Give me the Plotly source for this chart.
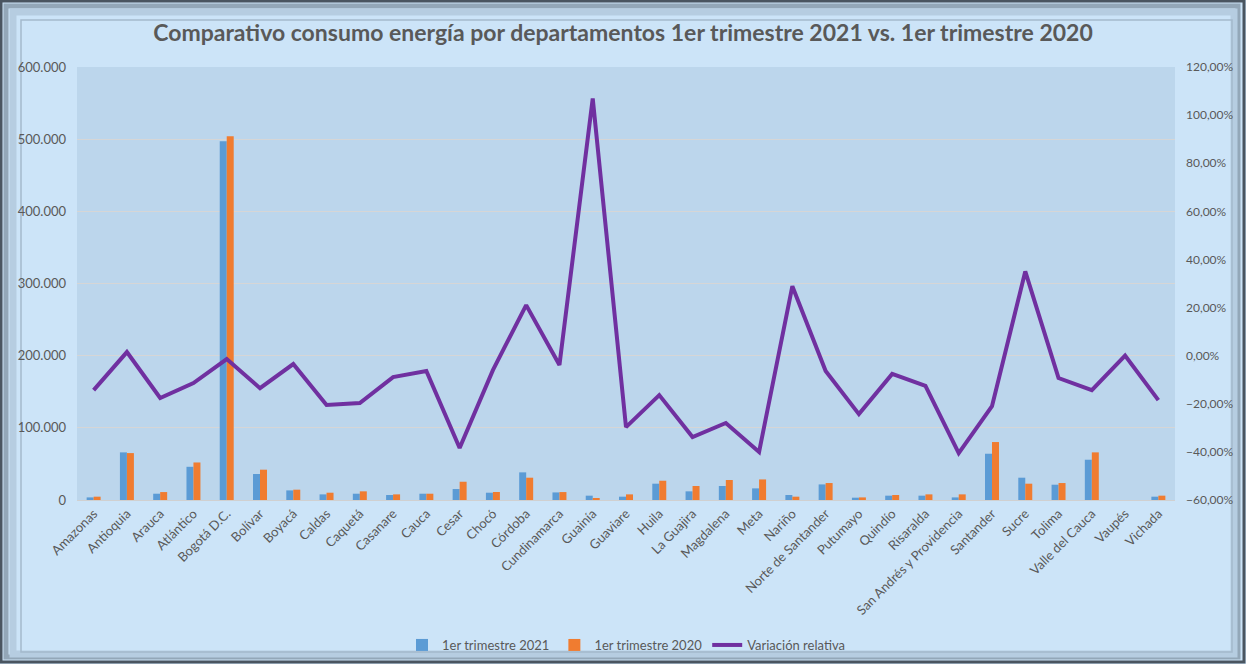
import plotly.graph_objects as go

departamentos = ["Amazonas", "Antioquia", "Arauca", "Atlántico", "Bogotá D.C.", "Bolívar", "Boyacá",
                 "Caldas", "Caquetá", "Casanare", "Cauca", "Cesar", "Chocó", "Córdoba", "Cundinamarca",
                 "Guainía", "Guaviare", "Huila", "La Guajira", "Magdalena", "Meta", "Nariño",
                 "Norte de Santander", "Putumayo", "Quindío", "Risaralda", "San Andrés y Providencia",
                 "Santander", "Sucre", "Tolima", "Valle del Cauca", "Vaupés", "Vichada"]

trimestre_2021 = [3600, 66000, 8700, 46000, 497000, 36000, 13300,
                  7800, 8700, 6900, 8700, 15200, 10100, 38300, 10500,
                  6000, 4600, 22600, 12000, 19400, 16100, 6900,
                  21600, 3200, 6000, 6000, 3600,
                  64100, 30900, 21200, 55800, 0, 4600]

trimestre_2020 = [4600, 65000, 11000, 52000, 504000, 42000, 14300,
                  10100, 12000, 7800, 8700, 25300, 11100, 30900, 11000,
                  2200, 7800, 26700, 19400, 27700, 28500, 4600,
                  23500, 3600, 6900, 7800, 7800,
                  80300, 22600, 23500, 66000, 0, 6000]

variacion = [-0.143, 0.015, -0.176, -0.114, -0.014, -0.135, -0.035,
             -0.205, -0.197, -0.089, -0.064, -0.384, -0.060, 0.210, -0.039,
             1.069, -0.297, -0.164, -0.338, -0.280, -0.400, 0.289,
             -0.064, -0.243, -0.076, -0.126, -0.405,
             -0.210, 0.350, -0.093, -0.143, 0.000, -0.185]

W, H = 1246, 664
L, R, T, B = 77, 71, 67, 164
PW, PH = W - L - R, H - T - B

def px(x):
    return (x - L) / PW

def py(y):
    return (H - B - y) / PH

TXT = "#595959"
FONT = "Lato"

fig = go.Figure()
fig.add_trace(go.Bar(x=departamentos, y=trimestre_2021, name="1er trimestre 2021",
                     marker=dict(color="#5b9bd5", line=dict(width=0))))
fig.add_trace(go.Bar(x=departamentos, y=trimestre_2020, name="1er trimestre 2020",
                     marker=dict(color="#f07c30", line=dict(width=0))))
fig.add_trace(go.Scatter(x=departamentos, y=variacion, name="Variación relativa", yaxis="y2",
                         mode="lines", line=dict(color="#7030a0", width=4)))

shapes = [
    dict(type="rect", xref="paper", yref="paper", x0=px(1), x1=px(W - 2), y0=py(H - 2), y1=py(1),
         line=dict(color="#4a5560", width=3), layer="below"),
    dict(type="rect", xref="paper", yref="paper", x0=px(6), x1=px(W - 8), y0=py(H - 7), y1=py(6),
         line=dict(color="#93a7b8", width=5), layer="below"),
    dict(type="rect", xref="paper", yref="paper", x0=px(13), x1=px(W - 12), y0=py(H - 10), y1=py(12),
         line=dict(color="#b6cde1", width=7), layer="below"),
    dict(type="rect", xref="paper", yref="paper", x0=px(21), x1=px(1232), y0=py(652), y1=py(20),
         line=dict(color="#a4b9cc", width=1.5), layer="below"),
]

fig.update_layout(
    width=W, height=H,
    margin=dict(l=L, r=R, t=T, b=B, autoexpand=False),
    paper_bgcolor="#cce4f8",
    plot_bgcolor="#bcd6ec",
    separators=",.",
    font=dict(family=FONT, color=TXT, size=13),
    title=dict(text="<b>Comparativo consumo energía por departamentos 1er trimestre 2021 vs. 1er trimestre 2020</b>",
               x=0.5, xanchor="center", xref="container", y=1 - 33 / H, yanchor="middle",
               font=dict(family=FONT, size=23, color=TXT)),
    barmode="group", bargap=0.58, bargroupgap=0.0,
    xaxis=dict(tickangle=-45, tickfont=dict(size=13, color=TXT), showgrid=False,
               showline=True, linecolor="#d0d0d0", linewidth=1, ticks=""),
    yaxis=dict(range=[0, 600000], dtick=100000, tickformat=",", showgrid=True,
               gridcolor="#d6d6d6", gridwidth=1, zeroline=False, ticks="",
               tickfont=dict(size=13, color=TXT), ticklabelstandoff=10),
    yaxis2=dict(range=[-0.6, 1.2], dtick=0.2, tickformat=".2%", overlaying="y", side="right",
                showgrid=False, zeroline=False, ticks="", tickfont=dict(size=12, color=TXT),
                ticklabelstandoff=10),
    legend=dict(orientation="h", x=0.5, xanchor="center", y=py(645), yanchor="middle",
                font=dict(size=13, color=TXT), bgcolor="rgba(0,0,0,0)", traceorder="normal",
                itemwidth=30),
    shapes=shapes,
    showlegend=True,
)

fig.write_html("out.html", config={"displayModeBar": False},
               post_script="document.body.style.margin='0';document.body.style.overflow='hidden';")
